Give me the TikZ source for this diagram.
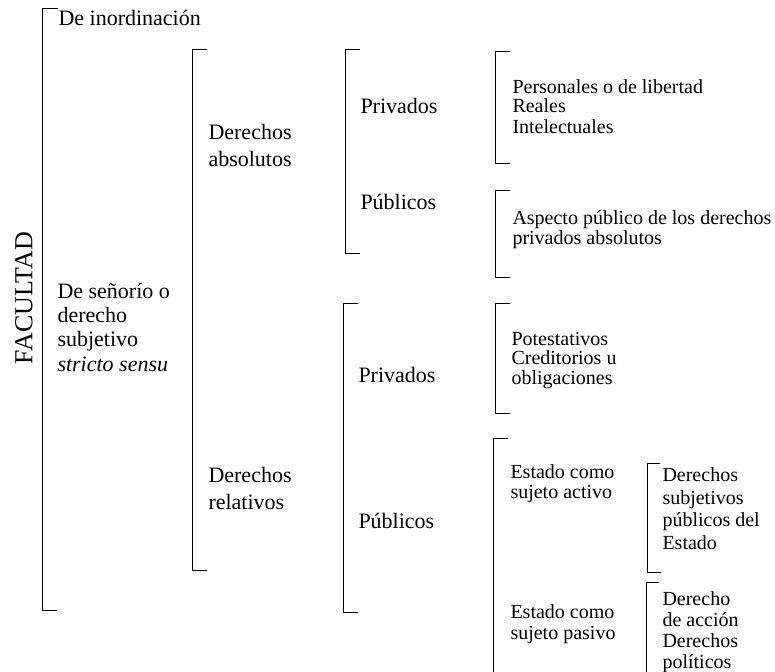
\documentclass[tikz,border=0pt]{standalone}
\usepackage{fontspec}
\setmainfont{Liberation Serif}

\begin{document}
\begin{tikzpicture}[x=1pt,y=-1pt,line width=1pt]
  \tikzset{txt/.style={anchor=base west,inner sep=0pt,align=left,
                       font=\fontsize{22}{24.3}\selectfont},
           small/.style={txt,font=\fontsize{20}{19.5}\selectfont},
           tiny/.style={txt,font=\fontsize{20}{22.5}\selectfont}}
  \useasboundingbox (0,0) rectangle (775,671);

  \node[rotate=90,font=\fontsize{26}{26}\selectfont] (facultad) at (24,298) {FACULTAD};
  \node[txt]   (inord)     at (58,26)   {De inordinación};
  \node[txt]   (senorio)   at (57,371)  {De señorío o\\derecho\\subjetivo\\\textit{stricto sensu}};
  \node[txt]   (absolutos) at (208,166) {Derechos\\[2pt]absolutos};
  \node[txt]   (relativos) at (208,509) {Derechos\\[2pt]relativos};
  \node[txt]   (abs_priv)  at (360,114) {Privados};
  \node[txt]   (abs_pub)   at (360,209) {Públicos};
  \node[txt]   (rel_priv)  at (358,382) {Privados};
  \node[txt]   (rel_pub)   at (358,528) {Públicos};
  \node[small] (personal)  at (512,134) {Personales o de libertad\\[-1pt]Reales\\[2pt]Intelectuales};
  \node[small] (aspecto)   at (512,244) {Aspecto público de los derechos\\privados absolutos};
  \node[small] (potest)    at (511,384) {Potestativos\\Creditorios u\\obligaciones};
  \node[small] (activo)    at (510,498) {Estado como\\sujeto activo};
  \node[small] (pasivo)    at (510,639) {Estado como\\[1.5pt]sujeto pasivo};
  \node[tiny]  (subj)      at (662,549) {Derechos\\subjetivos\\públicos del\\Estado};
  \node[tiny]  (accion)    at (662,668) {Derecho\\[-1.5pt]de acción\\[-1.5pt]Derechos\\[-1.5pt]políticos};

  % corchetes
  \draw (58,9)   -| (42,610)  -- (57,610);
  \draw (207,50) -| (192,570) -- (207,570);
  \draw (360,50) -| (345,253) -- (360,253);
  \draw (358,303) -| (343,612) -- (358,612);
  \draw (510,52)  -| (495,163) -- (510,163);
  \draw (510,190) -| (495,277) -- (510,277);
  \draw (510,303) -| (495,413) -- (510,413);
  \draw (508,438) -| (493,680);
  \draw (660,463) -| (647,572) -- (661,572);
  \draw (659,582) -| (646,680);
\end{tikzpicture}
\end{document}
